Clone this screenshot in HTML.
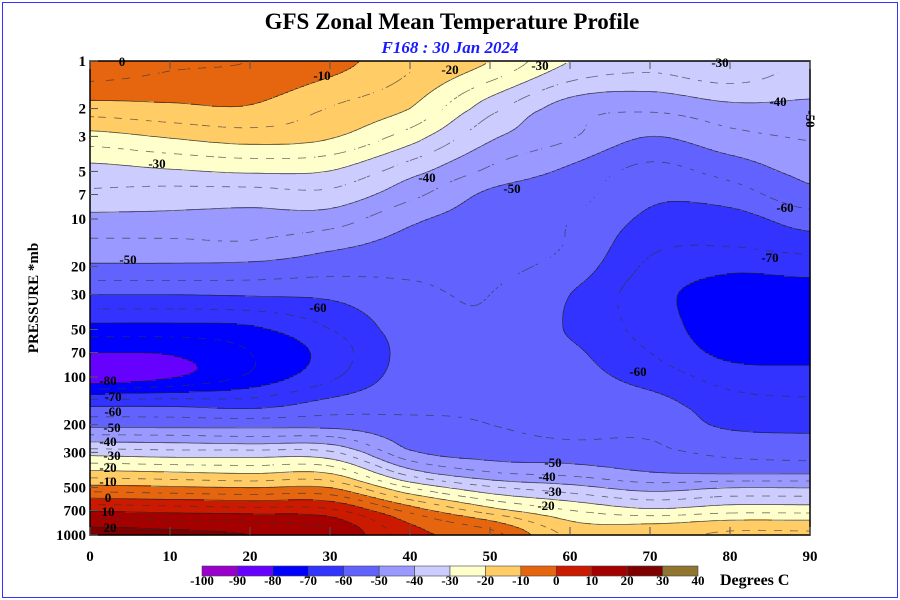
<!DOCTYPE html>
<html><head><meta charset="utf-8"><style>
html,body{margin:0;padding:0;background:#fff;}
svg{display:block;font-family:"Liberation Serif",serif;}
</style></head><body>
<svg id="chart" width="900" height="600" viewBox="0 0 900 600" xmlns="http://www.w3.org/2000/svg">
<rect x="2.5" y="2.5" width="895" height="595" fill="#fff" stroke="#3333ff" stroke-width="1"/>
<text x="452" y="29" text-anchor="middle" font-size="23" font-weight="bold">GFS Zonal Mean Temperature Profile</text>
<text x="450" y="53" text-anchor="middle" font-size="17" font-weight="bold" font-style="italic" fill="#1a1aff">F168 : 30 Jan 2024</text>
<g id="fills"></g>
<g id="lines"></g>
<g id="clabels" font-size="13" font-weight="bold"></g>
<rect x="90" y="61" width="720" height="474" fill="none" stroke="#000" stroke-width="1.5"/>
<g id="yaxis" font-size="15" font-weight="bold"></g>
<g id="xaxis" font-size="15" font-weight="bold"></g>
<text transform="translate(38,298) rotate(-90)" text-anchor="middle" font-size="15" font-weight="bold">PRESSURE *mb</text>
<g id="cbar" font-size="13" font-weight="bold"></g>
<text x="720" y="585" font-size="16" font-weight="bold">Degrees C</text>
</svg>
<script>
const lats = [0,10,20,30,40,50,60,70,80,90];
const levels = [1,2,3,5,7,10,15,20,30,50,70,100,150,200,250,300,400,500,700,850,1000];
const lat0  = [-1,-12,-22,-32,-36,-41.5,-46.5,-51,-60,-72,-80,-84,-61,-52,-41.5,-32,-19,-8,9,18,24];
const lat10 = [-4,-11,-19.5,-30.6,-37,-41.5,-46.5,-51,-60,-72,-79.5,-80.5,-61,-52,-42,-33,-20,-9,8,17,22];
const lat20 = [-5,-10.5,-17.6,-29.3,-37.2,-42,-46,-51.5,-59.5,-71,-75,-74,-62,-52,-43,-33,-21,-10,7,16,20];
const lat30 = [-8,-15.2,-19.4,-30.1,-36.5,-42.6,-49,-53,-59,-65,-68,-66,-58,-52,-43,-34,-21,-10,6,13,16];
const lat40 = [-14,-20,-27.5,-38,-43.5,-49,-52,-54,-56,-57.5,-58,-57.5,-56,-54,-52,-49,-38,-25,-7,0,2];
const lat50 = [-20,-33,-39,-46,-51,-52.5,-53,-54,-55,-55.5,-56,-56,-55.5,-55,-54,-52.5,-45,-34,-18,-8,-3];
const lat60 = [-30,-42.5,-44.5,-51,-53,-55,-55.5,-57,-60,-60.5,-59,-58,-57,-56,-55,-53,-47,-38,-25,-19,-16];
const lat70 = [-33,-44,-50,-56.5,-59,-61,-64,-66,-68,-67,-65,-62,-58,-56.5,-55,-54,-50,-42,-29,-20,-17];
const lat80 = [-30,-41.3,-46.5,-53,-57.5,-62,-65,-69,-72.5,-73,-71.5,-67,-63,-61,-58,-56,-51,-40,-27,-18,-14];
const lat90 = [-36,-41,-44.5,-48.5,-51.5,-57.5,-63,-68,-72.5,-73.5,-72,-68,-64,-61.5,-59,-57,-51,-40,-27,-18,-14];
const grid = [lat0,lat10,lat20,lat30,lat40,lat50,lat60,lat70,lat80,lat90];
const bandEdges = [-100,-90,-80,-70,-60,-50,-40,-30,-20,-10,0,10,20,30,40];
const bandColors = ["#9900cc","#6600ff","#0000ff","#3333ff","#6262ff","#9999ff","#ccccff","#ffffcc","#ffcc66","#e5660f","#cc1a00","#a50000","#7f0000","#8f7530"];
const yTicks = [1,2,3,5,7,10,20,30,50,70,100,200,300,500,700,1000];
const xTicks = [0,10,20,30,40,50,60,70,80,90];

const NS="http://www.w3.org/2000/svg";
const X0=90,X1=810,Y0=61,Y1=535;
const xOf = lat => X0+(X1-X0)*lat/90;
const yOf = p => Y0+(Y1-Y0)*Math.log10(p)/3;
const latOf = x => (x-X0)/(X1-X0)*90;
const lpOf = y => (y-Y0)/(Y1-Y0)*3;
const logLv = levels.map(p=>Math.log10(p));
function cr(p0,p1,p2,p3,t){
  return 0.5*((2*p1)+(-p0+p2)*t+(2*p0-5*p1+4*p2-p3)*t*t+(-p0+3*p1-3*p2+p3)*t*t*t);
}
function colAt(i,lp){
  let j=0; while(j<logLv.length-2 && lp>logLv[j+1]) j++;
  let f=(lp-logLv[j])/(logLv[j+1]-logLv[j]); f=Math.max(0,Math.min(1,f));
  const c=grid[i], n=c.length;
  const g=k=>c[Math.max(0,Math.min(n-1,k))];
  return cr(g(j-1),g(j),g(j+1),g(j+2),f);
}
function T(lat, lp){
  let i=Math.min(Math.floor(lat/10),8); if(i<0)i=0;
  let fx=(lat-lats[i])/10; fx=Math.max(0,Math.min(1,fx));
  const g=k=>colAt(Math.max(0,Math.min(9,k)),lp);
  return cr(g(i-1),g(i),g(i+1),g(i+2),fx);
}
function band(t){let k=Math.floor((t+100)/10);return Math.max(0,Math.min(13,k));}
function mk(tag,attrs,parent){const e=document.createElementNS(NS,tag);for(const k in attrs)e.setAttribute(k,attrs[k]);parent.appendChild(e);return e;}

// fills
const fills=document.getElementById('fills');
const SY=2,SX=1;
for(let y=Y0;y<Y1;y+=SY){
  const lp=lpOf(y+SY/2);
  let start=X0,cur=band(T(latOf(X0+0.5),lp));
  for(let x=X0+SX;x<=X1;x+=SX){
    const b = x<X1 ? band(T(latOf(x+0.5),lp)) : -1;
    if(b!==cur){
      const r=mk('rect',{x:start,y:y,width:x-start+0.6,height:SY+0.6,fill:bandColors[cur]},fills);
      
      
      start=x;cur=b;
    }
  }
}

// contour lines via marching squares
const lines=document.getElementById('lines');
const G=4, nx=Math.round((X1-X0)/G), ny=Math.ceil((Y1-Y0)/G);
const F=[];
for(let j=0;j<=ny;j++){F[j]=[];const y=Math.min(Y1,Y0+j*G);for(let i=0;i<=nx;i++){F[j][i]=T(latOf(X0+i*G),lpOf(y));}}
for(let L=-85;L<=25;L+=5){
  const solid=(L%10===0);
  let d="";
  for(let j=0;j<ny;j++){
    const ya=Y0+j*G, yb=Math.min(Y1,Y0+(j+1)*G);
    for(let i=0;i<nx;i++){
      if(!solid && Math.floor((i+j)/2)%2===1) continue;
      const xa=X0+i*G, xb=xa+G;
      const a=F[j][i],b=F[j][i+1],c=F[j+1][i+1],e=F[j+1][i];
      const pts=[];
      if((a-L)*(b-L)<0) pts.push([xa+(L-a)/(b-a)*G,ya]);
      if((b-L)*(c-L)<0) pts.push([xb,ya+(L-b)/(c-b)*(yb-ya)]);
      if((e-L)*(c-L)<0) pts.push([xa+(L-e)/(c-e)*G,yb]);
      if((a-L)*(e-L)<0) pts.push([xa,ya+(L-a)/(e-a)*(yb-ya)]);
      for(let k=0;k+1<pts.length;k+=2){
        d+=`M${pts[k][0].toFixed(1)} ${pts[k][1].toFixed(1)}L${pts[k+1][0].toFixed(1)} ${pts[k+1][1].toFixed(1)}`;
      }
    }
  }
  if(d){
    const p=mk('path',{d:d,fill:'none',stroke:solid?'#222':'#333','stroke-width':0.8,'stroke-opacity':solid?0.8:0.7},lines);
    
    
  }
}

// contour labels
const cl=document.getElementById('clabels');
const labs=[["0",122,66],["-10",322,80],["-20",450,74],["-30",540,70],["-30",720,67],["-40",778,106],["-30",157,168],["-40",427,182],["-50",512,193],["-60",785,212],["-50",128,264],["-70",770,262],["-60",318,312],["-60",638,376],
["-80",108,385],["-70",113,401],["-60",113,416],["-50",112,432],["-40",108,446],["-30",112,460],["-20",108,472],["-10",108,486],["0",108,502],["10",108,516],["20",110,532],
["-50",553,467],["-40",547,481],["-30",553,496],["-20",546,510]];
for(const [t,x,y] of labs){const e=mk('text',{x:x,y:y,'text-anchor':'middle'},cl);e.textContent=t;

}
const r50=mk('text',{transform:'translate(806,119) rotate(90)','text-anchor':'middle'},cl);r50.textContent='-50';



// y axis
const ya=document.getElementById('yaxis');
for(const p of yTicks){const y=yOf(p);
  const t=mk('text',{x:86,y:y+5,'text-anchor':'end'},ya);t.textContent=p;
  
  
  const l=mk('line',{x1:X0,x2:X0+8,y1:y,y2:y,stroke:'#555','stroke-width':1},ya);
  
  
}
// x axis
const xa=document.getElementById('xaxis');
for(const v of xTicks){const x=xOf(v);
  const t=mk('text',{x:x,y:561,'text-anchor':'middle'},xa);t.textContent=v;
  
  
  const l=mk('line',{x1:x,x2:x,y1:Y1,y2:Y1-8,stroke:'#555','stroke-width':1},xa);
  
  
  const l2=mk('line',{x1:x,x2:x,y1:Y0,y2:Y0+8,stroke:'#555','stroke-width':1},xa);
  
  
}
// colorbar
const cb=document.getElementById('cbar');
const CB0=202,CB1=698,bw=(CB1-CB0)/bandColors.length;
bandColors.forEach((c,k)=>{
  const r=mk('rect',{x:CB0+k*bw,y:566,width:bw,height:10,fill:c,stroke:'#444','stroke-width':0.6},cb);
  
  
});
bandEdges.forEach((v,k)=>{
  const t=mk('text',{x:CB0+k*bw,y:585,'text-anchor':'middle'},cb);t.textContent=v;
  
  
});
</script>
</body></html>
